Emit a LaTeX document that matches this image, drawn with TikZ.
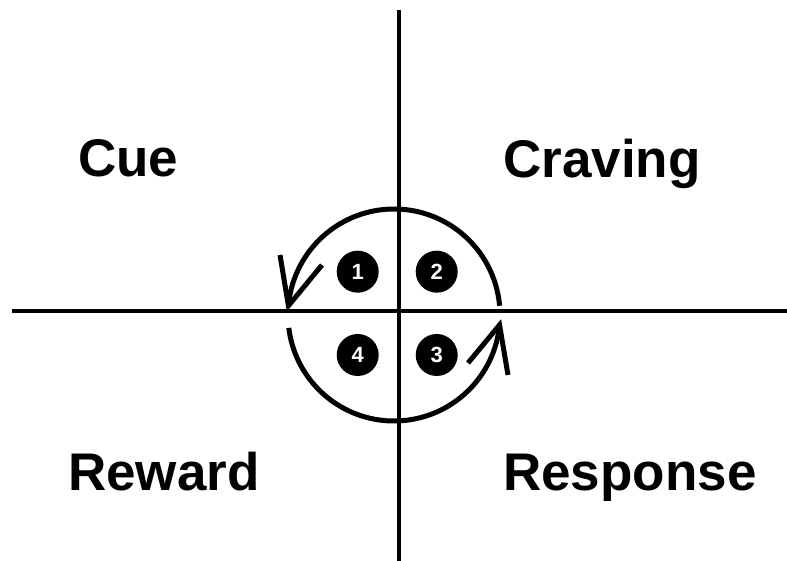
\documentclass[tikz,border=0pt]{standalone}
\usepackage{fontspec}
\setmainfont{Liberation Sans}
\tikzset{
  axisline/.style={line width=4pt, black},
  cyclearc/.style={line width=5pt, black},
  barb/.style={line width=5pt, black, line join=miter},
  numdot/.style={circle, fill=black, minimum size=42pt, inner sep=0pt, text=white, font=\bfseries\fontsize{22}{22}\selectfont},
  label/.style={anchor=base west, inner sep=0pt, font=\bfseries\fontsize{53}{53}\selectfont}
}
\begin{document}
\begin{tikzpicture}[x=1pt, y=1pt]
\useasboundingbox (0,0) rectangle (787,561);
\fill[white] (0,0) rectangle (787,561);
\coordinate (vt) at (399,551);
\coordinate (vb) at (399,0);
\coordinate (hl) at (12,250);
\coordinate (hr) at (787,250);
\draw[axisline] (vt) -- (vb);
\draw[axisline] (hl) -- (hr);
\coordinate (c) at (394,246);
% upper arc with arrowhead at left
\draw[cyclearc] ([shift={(5:106)}]c) arc[start angle=5, end angle=175, radius=106] coordinate (tipA);
\coordinate (a1) at (280,306);
\coordinate (a2) at (322,296);
\draw[barb] (a1) -- (tipA) -- (a2);
% lower arc with arrowhead at right
\draw[cyclearc] ([shift={(187:106)}]c) arc[start angle=187, end angle=354.6, radius=106] coordinate (tipB);
\coordinate (b1) at (468,198);
\coordinate (b2) at (508,186);
\draw[barb] (b1) -- (tipB) -- (b2);
\node[numdot] (n1) at (357.7,289.3) {1};
\node[numdot] (n2) at (436.7,289.3) {2};
\node[numdot] (n3) at (436.7,206) {3};
\node[numdot] (n4) at (357.7,206) {4};
\node[label] (cue) at (78,384) {Cue};
\node[label] (craving) at (503,383) {Craving};
\node[label] (reward) at (68,70) {Reward};
\node[label] (response) at (503,70) {Response};
\end{tikzpicture}
\end{document}
